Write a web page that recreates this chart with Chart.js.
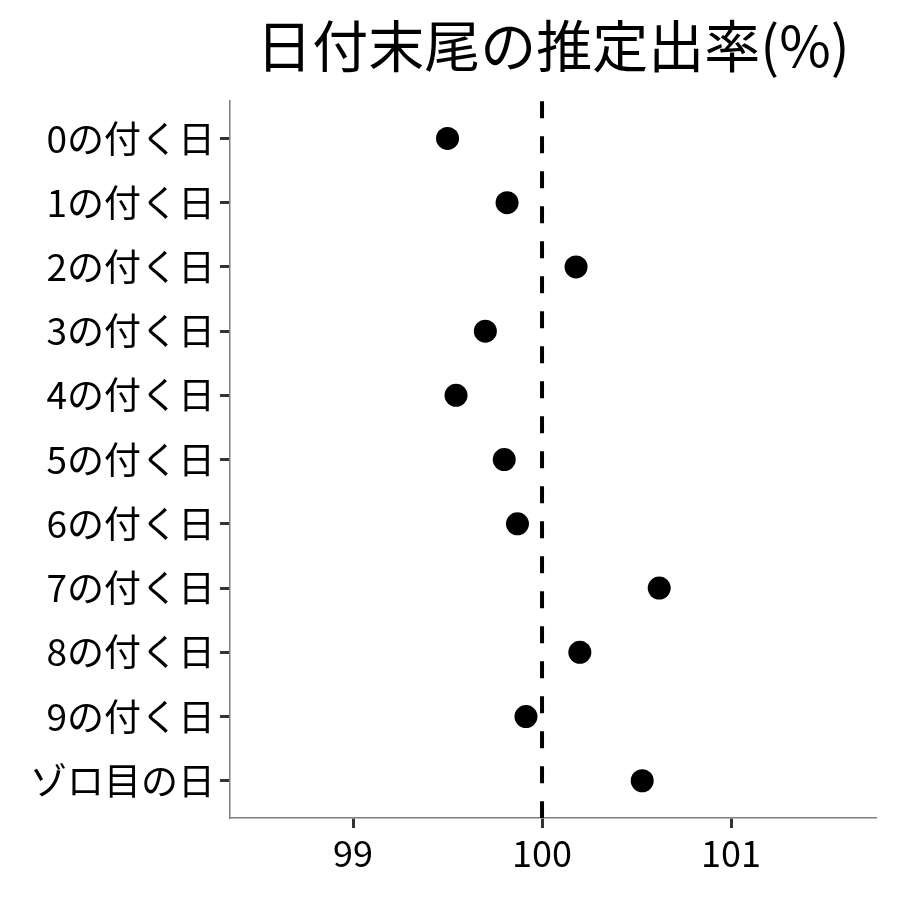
<!DOCTYPE html>
<html>
<head>
<meta charset="utf-8">
<script src="https://cdn.jsdelivr.net/npm/chart.js@4"></script>
<style>
  html, body { margin: 0; padding: 0; background: #fff; }
  #wrap { width: 900px; height: 900px; }
</style>
</head>
<body>
<div id="wrap"><canvas id="chart"></canvas></div>
<script>
const categories = ['0の付く日', '1の付く日', '2の付く日', '3の付く日', '4の付く日', '5の付く日',
    '6の付く日', '7の付く日', '8の付く日', '9の付く日', 'ゾロ目の日'];
const rates = [99.50, 99.815, 100.18, 99.70, 99.545, 99.80, 99.87, 100.62, 100.20, 99.915, 100.53];
const xTicks = [99, 100, 101];
const refLine = 100;

const FONT = '"Noto Sans CJK JP", "Noto Sans", sans-serif';

// dashed reference line at 100
const refLinePlugin = {
    id: 'refLine',
    afterDatasetsDraw(chart) {
        const { ctx, chartArea, scales } = chart;
        const x = scales.x.getPixelForValue(refLine);
        ctx.save();
        ctx.strokeStyle = '#000';
        ctx.lineWidth = 4;
        ctx.setLineDash([17, 18]);
        ctx.beginPath();
        ctx.moveTo(x, chartArea.top);
        ctx.lineTo(x, chartArea.bottom);
        ctx.stroke();
        ctx.restore();
    }
};

const points = rates.map((v, i) => ({ x: v, y: i }));

new Chart(document.getElementById('chart'), {
    type: 'scatter',
    data: {
        datasets: [{
            data: points,
            backgroundColor: '#000',
            borderColor: '#000',
            pointRadius: 11.5,
            pointHoverRadius: 11.5,
            borderWidth: 0
        }]
    },
    options: {
        responsive: true,
        maintainAspectRatio: false,
        animation: false,
        layout: { padding: { left: 0, right: 24, top: 0, bottom: 0 } },
        plugins: {
            legend: { display: false },
            tooltip: { enabled: false },
            title: {
                display: true,
                text: '日付末尾の推定出率(%)',
                color: '#000',
                fullSize: false,
                font: { family: FONT, size: 56, weight: 'normal' },
                padding: { top: 12, bottom: 22 }
            }
        },
        scales: {
            x: {
                type: 'linear',
                min: 98.349,
                max: 101.767,
                afterBuildTicks: (scale) => { scale.ticks = xTicks.map(v => ({ value: v })); },
                afterFit: (scale) => { scale.height = 82; },
                grid: { drawOnChartArea: false, drawTicks: true, tickLength: 10, tickColor: '#333', tickWidth: 3 },
                border: { color: '#7f7f7f', width: 1.5 },
                ticks: {
                    color: '#000',
                    padding: 4,
                    font: { family: FONT, size: 36 }
                }
            },
            y: {
                type: 'linear',
                reverse: true,
                min: -0.58,
                max: 10.58,
                afterBuildTicks: (scale) => { scale.ticks = categories.map((c, i) => ({ value: i })); },
                afterFit: (scale) => { scale.width = 230; },
                grid: { drawOnChartArea: false, drawTicks: true, tickLength: 10, tickColor: '#333', tickWidth: 3 },
                border: { color: '#7f7f7f', width: 1.5 },
                ticks: {
                    color: '#000',
                    padding: 5,
                    font: { family: FONT, size: 37 },
                    callback: (value) => categories[value]
                }
            }
        }
    },
    plugins: [refLinePlugin]
});
</script>
</body>
</html>
